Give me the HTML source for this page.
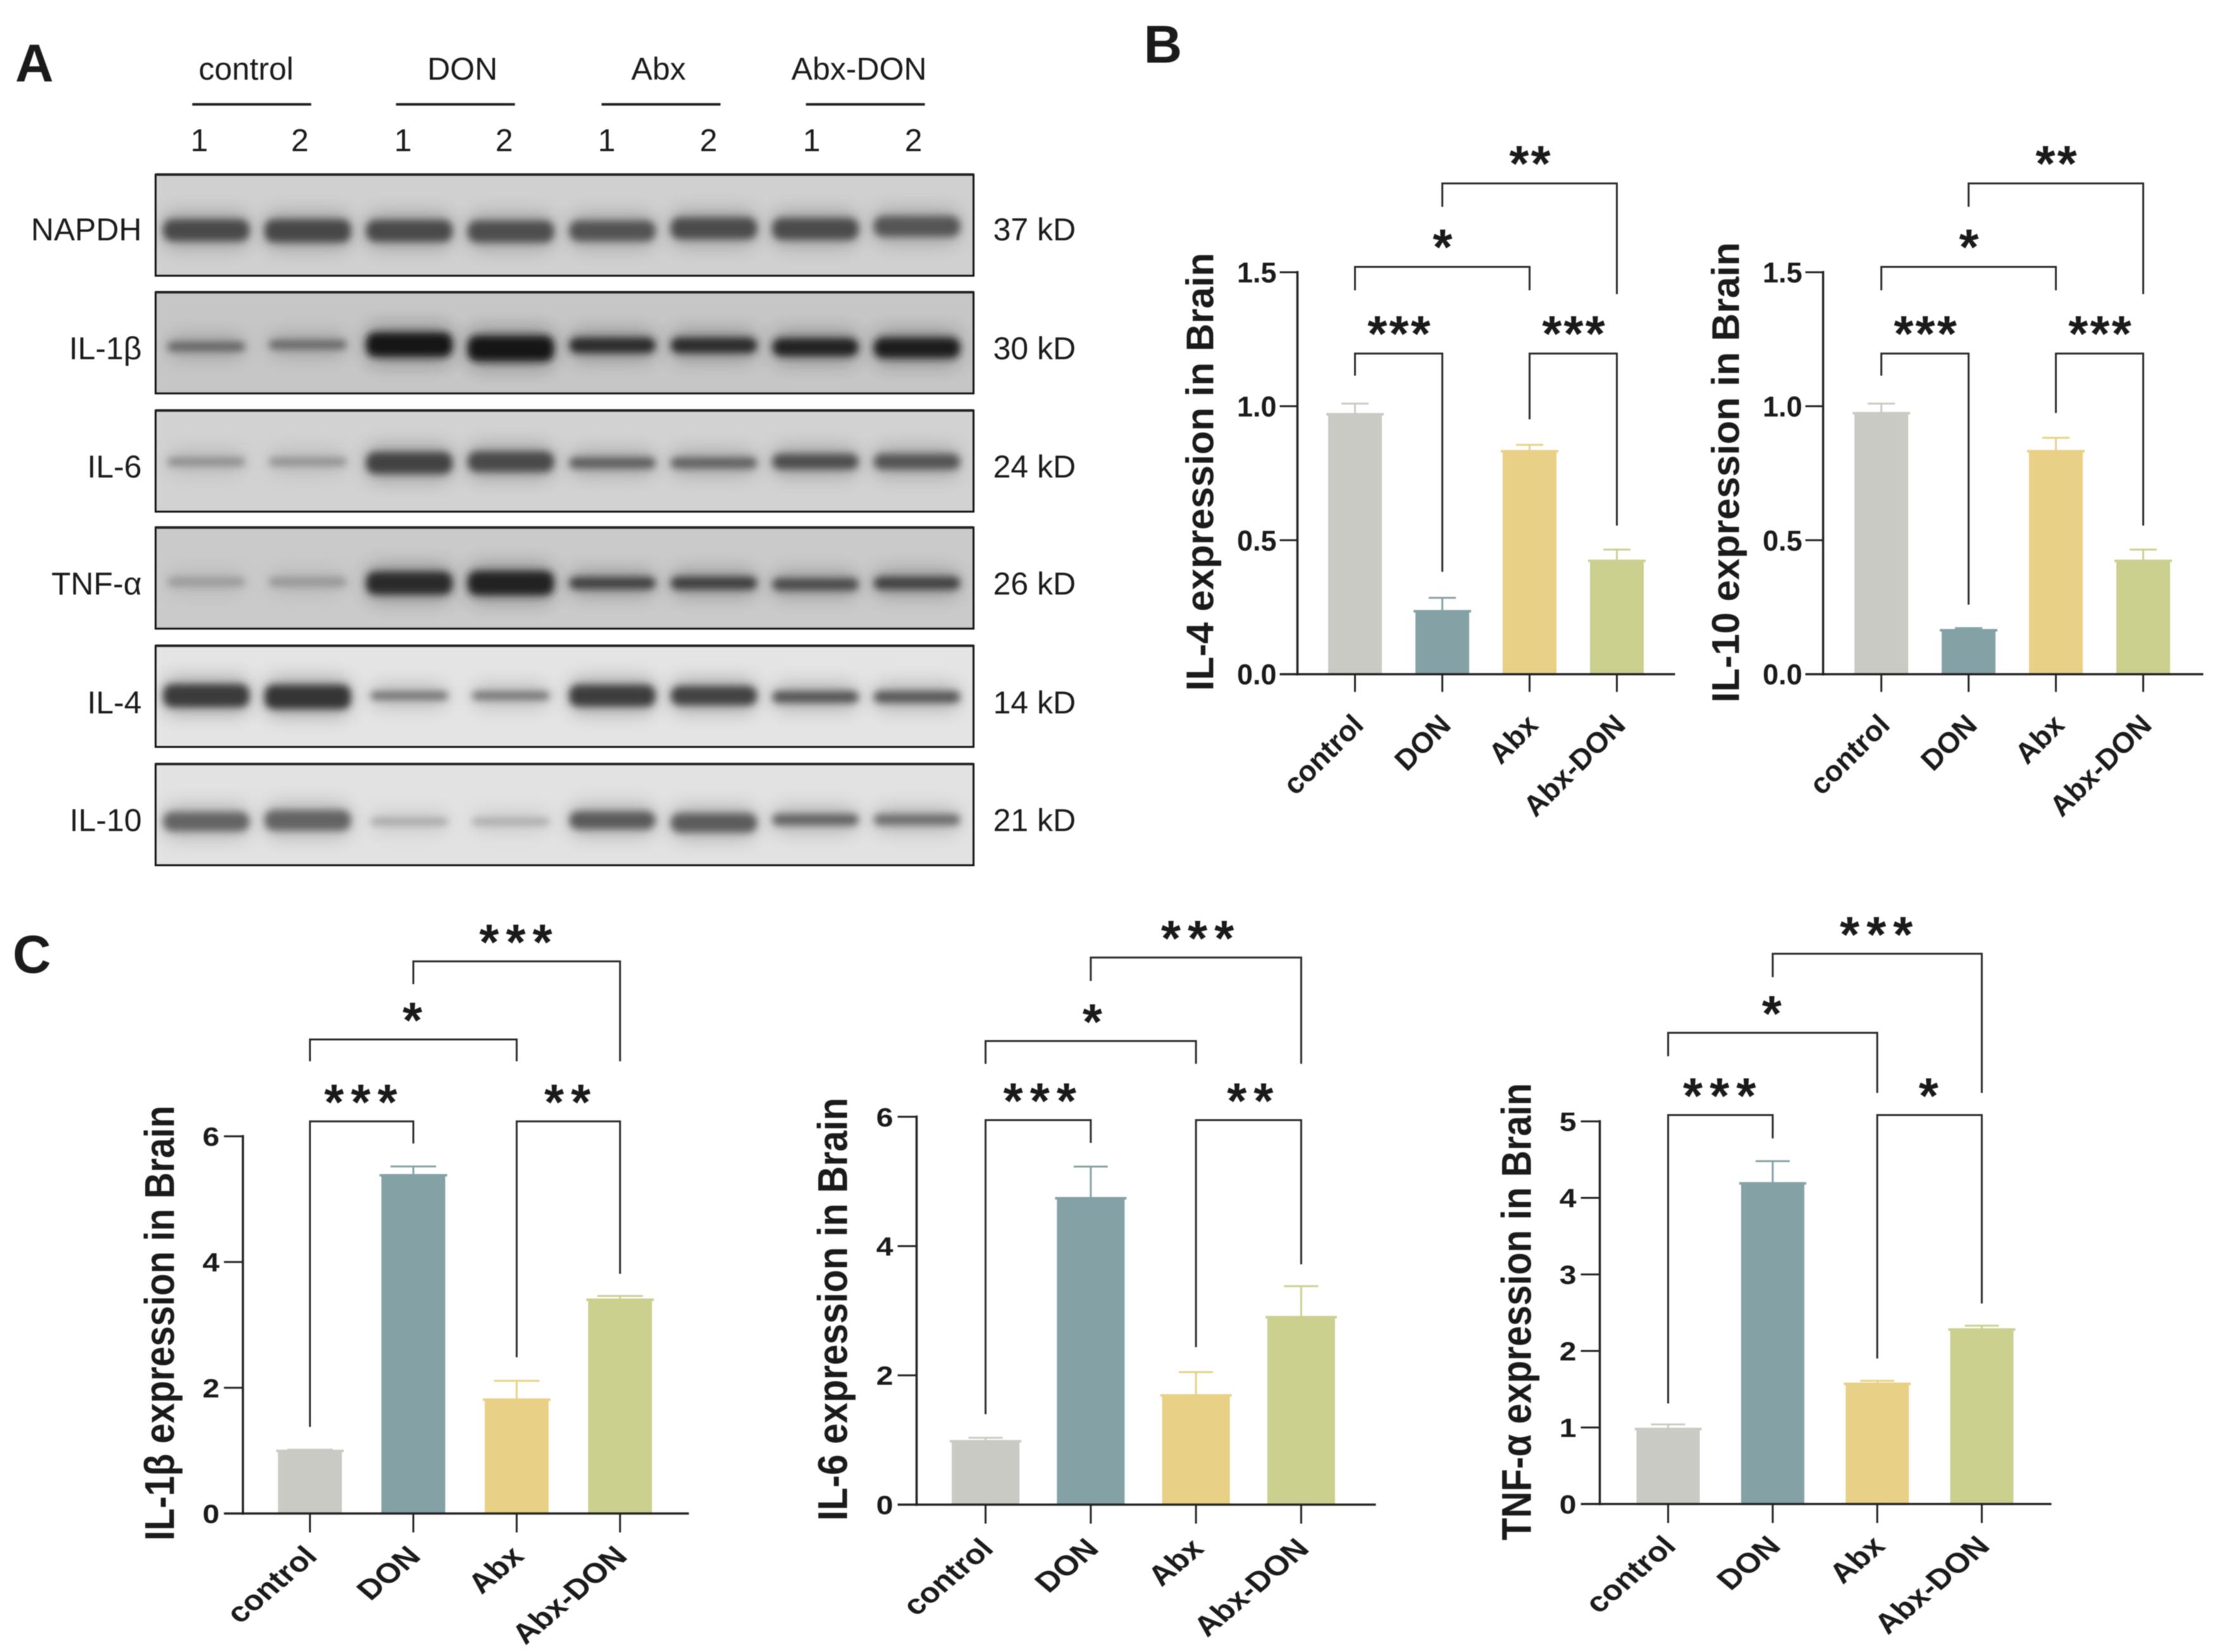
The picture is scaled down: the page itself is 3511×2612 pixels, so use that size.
<!DOCTYPE html>
<html lang="en">
<head>
<meta charset="utf-8">
<title>Western blot and cytokine expression in brain</title>
<style>
html,body{margin:0;padding:0;background:#fff;}
svg{display:block;font-family:"Liberation Sans",Arial,sans-serif;filter:blur(0.8px);}
text{fill:#1a1a1a;}
</style>
</head>
<body>
<svg id="fig" xmlns="http://www.w3.org/2000/svg" width="3511" height="2612" viewBox="0 0 3511 2612">
  <defs>
    <filter id="core" x="-20%" y="-150%" width="140%" height="400%"><feGaussianBlur stdDeviation="6"/></filter>
    <filter id="halo" x="-30%" y="-150%" width="160%" height="400%"><feGaussianBlur stdDeviation="14"/></filter>
  </defs>
  <rect width="3511" height="2612" fill="#fff"/>

  <g font-weight="bold" font-size="84" fill="#111">
    <text x="24" y="129">A</text>
    <text x="1808" y="99">B</text>
    <text x="20" y="1538">C</text>
  </g>

  <g font-size="50" text-anchor="middle">
    <text x="389" y="126">control</text>
    <text x="731" y="126">DON</text>
    <text x="1041" y="126">Abx</text>
    <text x="1358" y="126">Abx-DON</text>
    <rect x="304" y="163" width="188" height="4" fill="#222"/>
    <rect x="626" y="163" width="188" height="4" fill="#222"/>
    <rect x="951" y="163" width="188" height="4" fill="#222"/>
    <rect x="1274" y="163" width="188" height="4" fill="#222"/>
    <text x="315" y="239">1</text>
    <text x="474" y="239">2</text>
    <text x="637" y="239">1</text>
    <text x="797" y="239">2</text>
    <text x="959" y="239">1</text>
    <text x="1120" y="239">2</text>
    <text x="1283" y="239">1</text>
    <text x="1444" y="239">2</text>
  </g>
  <g id="blots"></g>
  <g id="charts"></g>
</svg>

<script>
// ---------- shared categories ----------
const categories = ['control', 'DON', 'Abx', 'Abx-DON'];
const barColors = ['#c9cac4', '#84a1a6', '#e8d086', '#cbd08f'];

// ---------- bar chart data ----------
const il4Values = [0.97, 0.235, 0.832, 0.423];
const il4Errors = [0.04, 0.05, 0.024, 0.042];
const il4Ticks = ['0.0', '0.5', '1.0', '1.5'];

const il10Values = [0.974, 0.164, 0.832, 0.423];
const il10Errors = [0.036, 0.008, 0.05, 0.042];
const il10Ticks = ['0.0', '0.5', '1.0', '1.5'];

const il1bValues = [0.995, 5.38, 1.81, 3.40];
const il1bErrors = [0.02, 0.14, 0.30, 0.06];
const il1bTicks = ['0', '2', '4', '6'];

const il6Values = [0.98, 4.74, 1.69, 2.90];
const il6Errors = [0.055, 0.49, 0.36, 0.48];
const il6Ticks = ['0', '2', '4', '6'];

const tnfValues = [0.98, 4.19, 1.57, 2.28];
const tnfErrors = [0.06, 0.29, 0.04, 0.05];
const tnfTicks = ['0', '1', '2', '3', '4', '5'];

// ---------- blot data (band darkness 0-255, band thickness, vertical wobble) ----------
const blotNames = ['NAPDH', 'IL-1β', 'IL-6', 'TNF-α', 'IL-4', 'IL-10'];
const blotSizes = ['37 kD', '30 kD', '24 kD', '26 kD', '14 kD', '21 kD'];
const blotBackgrounds = ['#d0d0d0', '#c6c6c6', '#d2d2d2', '#cacaca', '#e3e4e3', '#e1e2e1'];
const napdhGray = [74, 70, 72, 78, 82, 76, 76, 84];
const napdhThick = [34, 36, 34, 34, 32, 34, 34, 32];
const napdhShift = [0, 1, 1, 2, 1, -3, -2, -6];
const il1bGray = [96, 96, 22, 22, 44, 44, 36, 28];
const il1bThick = [14, 13, 38, 40, 24, 24, 28, 32];
const il1bShift = [0, -3, -3, 3, -2, -2, 1, 2];
const il6Gray = [135, 140, 66, 72, 92, 94, 78, 82];
const il6Thick = [12, 12, 34, 32, 17, 17, 24, 24];
const il6Shift = [-2, -2, 0, -2, 0, 0, -2, -2];
const tnfGray = [150, 148, 44, 34, 64, 62, 74, 64];
const tnfThick = [13, 14, 36, 38, 19, 20, 19, 20];
const tnfShift = [-2, -2, 0, 0, 0, 0, 2, 0];
const il4Gray = [58, 54, 105, 108, 62, 66, 82, 84];
const il4Thick = [36, 38, 12, 12, 34, 30, 18, 18];
const il4Shift = [-2, 0, -2, -2, -2, -2, 0, 0];
const il10Gray = [100, 100, 160, 165, 90, 92, 94, 104];
const il10Thick = [30, 32, 10, 10, 28, 30, 17, 16];
const il10Shift = [0, -2, 0, 0, -2, 2, -3, -3];

const blotGray = [napdhGray, il1bGray, il6Gray, tnfGray, il4Gray, il10Gray];
const blotThick = [napdhThick, il1bThick, il6Thick, tnfThick, il4Thick, il10Thick];
const blotShift = [napdhShift, il1bShift, il6Shift, tnfShift, il4Shift, il10Shift];

// ---------- helpers ----------
const NS = 'http://www.w3.org/2000/svg';
function mk(tag, attrs, parent) {
  const e = document.createElementNS(NS, tag);
  for (const k in attrs) e.setAttribute(k, attrs[k]);
  parent.appendChild(e);
  return e;
}
function slug(s) {
  return String(s).toLowerCase().replace(/[^a-z0-9]+/g, '-');
}
function linePath(parent, d, color, width) {
  return mk('path', { d: d, fill: 'none', stroke: color, 'stroke-width': width }, parent);
}

// ---------- blots ----------
function laneX(i) { return 326 + i * 160.5; }
function drawBlots() {
  const root = document.getElementById('blots');
  const tops = [276, 462, 649, 834, 1021, 1208];
  const mids = [364, 548, 732, 922, 1102, 1299];
  const labelBase = [380, 568, 755, 940, 1128, 1314];
  const height = 160;
  const left = 246, width = 1293;
  blotNames.forEach(function (name, b) {
    const top = tops[b];
    const mid = mids[b];
    const g = mk('g', {}, root);
    
    
    const clipId = 'clip' + b;
    const cp = mk('clipPath', { id: clipId }, g);
    mk('rect', { x: left, y: top, width: width, height: height }, cp);
    const bg = mk('rect', { x: left, y: top, width: width, height: height, fill: blotBackgrounds[b] }, g);
    
    
    const bands = mk('g', { 'clip-path': 'url(#' + clipId + ')' }, g);
    blotGray[b].forEach(function (gray, i) {
      const h = blotThick[b][i];
      const cy = mid + blotShift[b][i];
      const w = h < 15 ? 122 : 136;
      const col = 'rgb(' + gray + ',' + gray + ',' + gray + ')';
      mk('rect', { x: laneX(i) - w / 2, y: cy - h / 2 - 12, width: w, height: h + 24, rx: 20, fill: col, opacity: 0.32, filter: 'url(#halo)' }, bands);
      const band = mk('rect', { x: laneX(i) - w / 2, y: cy - h / 2, width: w, height: h, rx: Math.min(h / 2, 14), fill: col, filter: 'url(#core)' }, bands);
      
      
    });
    const frame = mk('path', { d: 'M' + left + ' ' + top + 'H' + (left + width) + 'V' + (top + height) + 'H' + left + 'Z', fill: 'none', stroke: '#111', 'stroke-width': 3 }, g);
    
    
    const topEdge = mk('rect', { x: left, y: top - 2, width: width, height: 4, fill: '#222' }, g);
    
    
    const lab = mk('text', { x: 224, y: labelBase[b], 'text-anchor': 'end', 'font-size': 50 }, g);
    lab.textContent = name;
    
    
    const size = mk('text', { x: 1570, y: labelBase[b], 'font-size': 50 }, g);
    size.textContent = blotSizes[b];
    
    
  });
}

// ---------- bar charts ----------
function drawChart(c) {
  const root = document.getElementById('charts');
  const g = mk('g', {}, root);
  
  

  const xScale = function (i) { return c.x0 + i * c.step; };
  const yScale = function (v) { return c.y0 - v * c.unit; };
  const tickValue = function (t) { return parseFloat(t); };
  const yTop = yScale(tickValue(c.ticks[c.ticks.length - 1]));

  // bars and error bars
  c.values.forEach(function (v, i) {
    const x = xScale(i), y = yScale(v), w = c.barW, col = barColors[i];
    const bar = mk('rect', { x: x - w / 2, y: y, width: w, height: c.y0 - y, fill: col }, g);
    
    
    const top = mk('rect', { x: x - w / 2 - 3, y: y - 2, width: w + 6, height: 4, fill: col }, g);
    
    
    const yErr = yScale(v + c.errors[i]);
    const err = linePath(g, 'M' + x + ' ' + y + 'V' + yErr + 'M' + (x - c.capW / 2) + ' ' + yErr + 'H' + (x + c.capW / 2), col, 3);
    
    
  });

  // axes
  const yAxis = linePath(g, 'M' + c.axisX + ' ' + (yTop - 2) + 'V' + (c.y0 + 2), '#222', 3.5);
  
  
  const xAxis = linePath(g, 'M' + (c.axisX - c.tickLen) + ' ' + c.y0 + 'H' + c.axisEnd, '#222', 3.5);
  
  

  c.ticks.forEach(function (t) {
    const y = yScale(tickValue(t));
    const tk = linePath(g, 'M' + (c.axisX - c.tickLen) + ' ' + y + 'H' + c.axisX, '#222', 3);
    
    
    const tx = c.axisX - c.tickLen - c.tickGap, ty = y + c.tickFont * 0.36;
    const lb = mk('text', { x: tx, y: ty, 'text-anchor': 'end', 'font-size': c.tickFont, 'font-weight': 'bold', transform: 'translate(' + tx + ' ' + ty + ') scale(' + c.tickScale + ' 1) translate(' + (-tx) + ' ' + (-ty) + ')' }, g);
    lb.textContent = t;
    
    
  });

  categories.forEach(function (cat, i) {
    const x = xScale(i);
    const tk = linePath(g, 'M' + x + ' ' + c.y0 + 'V' + (c.y0 + c.tickLen), '#222', 3);
    
    
    const ax = x + c.labelDx, ay = c.y0 + c.labelDy;
    const lb = mk('text', { x: ax, y: ay, 'text-anchor': 'end', 'font-size': c.catFont, 'font-weight': 'bold', transform: 'translate(' + ax + ' ' + ay + ') scale(1 ' + c.catScaleY + ') rotate(-45) translate(' + (-ax) + ' ' + (-ay) + ')' }, g);
    lb.textContent = cat;
    
    
  });

  // y title
  const tr = 'rotate(-90 ' + c.titleX + ' ' + c.titleY + ')';
  const title = mk('text', { x: c.titleX, y: c.titleY, 'text-anchor': 'middle', 'font-size': c.titleFont, 'font-weight': 'bold', textLength: c.titleLen, lengthAdjust: 'spacingAndGlyphs', transform: tr }, g);
  title.textContent = c.title;
  
  

  // significance brackets
  c.brackets.forEach(function (b) {
    const xa = xScale(b.from), xb = xScale(b.to);
    const br = linePath(g, 'M' + xa + ' ' + b.dropA + 'V' + b.y + 'H' + xb + 'V' + b.dropB, '#2a2a2a', 3);
    
    
    const st = mk('text', { x: (xa + xb) / 2 + c.starDx, y: b.y - c.starGap + 38, 'text-anchor': 'middle', 'font-size': 80, 'font-weight': 'bold', 'letter-spacing': c.starSpacing }, g);
    st.textContent = b.stars;
    
    
  });
}

drawBlots();

drawChart({
  id: 'il-4', title: 'IL-4 expression in Brain', values: il4Values, errors: il4Errors, ticks: il4Ticks,
  x0: 2142, step: 138, y0: 1066, unit: 423.7, barW: 85, capW: 43,
  axisX: 2051, axisEnd: 2648, tickLen: 28, tickFont: 45, tickGap: 5, tickScale: 1, catFont: 46, catScaleY: 1, labelDx: 16, labelDy: 83,
  titleX: 1918, titleY: 746, titleFont: 61, titleLen: 693, starGap: 42, starSpacing: 3, starDx: 2,
  brackets: [
    { from: 1, to: 3, y: 290, dropA: 327, dropB: 465, stars: '**' },
    { from: 0, to: 2, y: 422, dropA: 459, dropB: 459, stars: '*' },
    { from: 0, to: 1, y: 559, dropA: 594, dropB: 904, stars: '***' },
    { from: 2, to: 3, y: 559, dropA: 663, dropB: 831, stars: '***' }
  ]
});
drawChart({
  id: 'il-10', title: 'IL-10 expression in Brain', values: il10Values, errors: il10Errors, ticks: il10Ticks,
  x0: 2974, step: 138, y0: 1066, unit: 423.7, barW: 85, capW: 43,
  axisX: 2882, axisEnd: 3483, tickLen: 28, tickFont: 45, tickGap: 5, tickScale: 1, catFont: 46, catScaleY: 1, labelDx: 16, labelDy: 83,
  titleX: 2749, titleY: 747, titleFont: 61, titleLen: 728, starGap: 42, starSpacing: 3, starDx: 2,
  brackets: [
    { from: 1, to: 3, y: 290, dropA: 327, dropB: 465, stars: '**' },
    { from: 0, to: 2, y: 422, dropA: 459, dropB: 459, stars: '*' },
    { from: 0, to: 1, y: 559, dropA: 594, dropB: 956, stars: '***' },
    { from: 2, to: 3, y: 559, dropA: 653, dropB: 831, stars: '***' }
  ]
});
drawChart({
  id: 'il-1b', title: 'IL-1β expression in Brain', values: il1bValues, errors: il1bErrors, ticks: il1bTicks,
  x0: 490, step: 163.4, y0: 2393, unit: 99.4, barW: 101, capW: 72,
  axisX: 384, axisEnd: 1089, tickLen: 30, tickFont: 42, tickGap: 7, tickScale: 1.15, catFont: 52, catScaleY: 0.85, labelDx: 14, labelDy: 70,
  titleX: 275, titleY: 2092, titleFont: 66, titleLen: 688, starGap: 41, starSpacing: 11, starDx: 4,
  brackets: [
    { from: 1, to: 3, y: 1520, dropA: 1556, dropB: 1678, stars: '***' },
    { from: 0, to: 2, y: 1643.5, dropA: 1678, dropB: 1678, stars: '*' },
    { from: 0, to: 1, y: 1773, dropA: 2256, dropB: 1808, stars: '***' },
    { from: 2, to: 3, y: 1773, dropA: 2146, dropB: 2014, stars: '**' }
  ]
});
drawChart({
  id: 'il-6', title: 'IL-6 expression in Brain', values: il6Values, errors: il6Errors, ticks: il6Ticks,
  x0: 1558, step: 166.3, y0: 2379, unit: 102.2, barW: 107, capW: 54,
  axisX: 1449, axisEnd: 2175, tickLen: 30, tickFont: 42, tickGap: 7, tickScale: 1.15, catFont: 52, catScaleY: 0.85, labelDx: 15, labelDy: 72,
  titleX: 1339, titleY: 2070, titleFont: 66, titleLen: 669, starGap: 41, starSpacing: 11, starDx: 8,
  brackets: [
    { from: 1, to: 3, y: 1514, dropA: 1551, dropB: 1682, stars: '***' },
    { from: 0, to: 2, y: 1646, dropA: 1682, dropB: 1682, stars: '*' },
    { from: 0, to: 1, y: 1771, dropA: 2236, dropB: 1807, stars: '***' },
    { from: 2, to: 3, y: 1771, dropA: 2130, dropB: 1999, stars: '**' }
  ]
});
drawChart({
  id: 'tnf-a', title: 'TNF-α expression in Brain', values: tnfValues, errors: tnfErrors, ticks: tnfTicks,
  x0: 2637, step: 165.3, y0: 2378, unit: 121, barW: 100, capW: 54,
  axisX: 2529, axisEnd: 3243, tickLen: 30, tickFont: 42, tickGap: 7, tickScale: 1.15, catFont: 52, catScaleY: 0.85, labelDx: 15, labelDy: 69,
  titleX: 2420, titleY: 2074, titleFont: 66, titleLen: 723, starGap: 41, starSpacing: 11, starDx: 4,
  brackets: [
    { from: 1, to: 3, y: 1508, dropA: 1545, dropB: 1728, stars: '***' },
    { from: 0, to: 2, y: 1633, dropA: 1670, dropB: 1728, stars: '*' },
    { from: 0, to: 1, y: 1763, dropA: 2219, dropB: 1800, stars: '***' },
    { from: 2, to: 3, y: 1763, dropA: 2148, dropB: 2061, stars: '*' }
  ]
});
</script>
</body>
</html>
